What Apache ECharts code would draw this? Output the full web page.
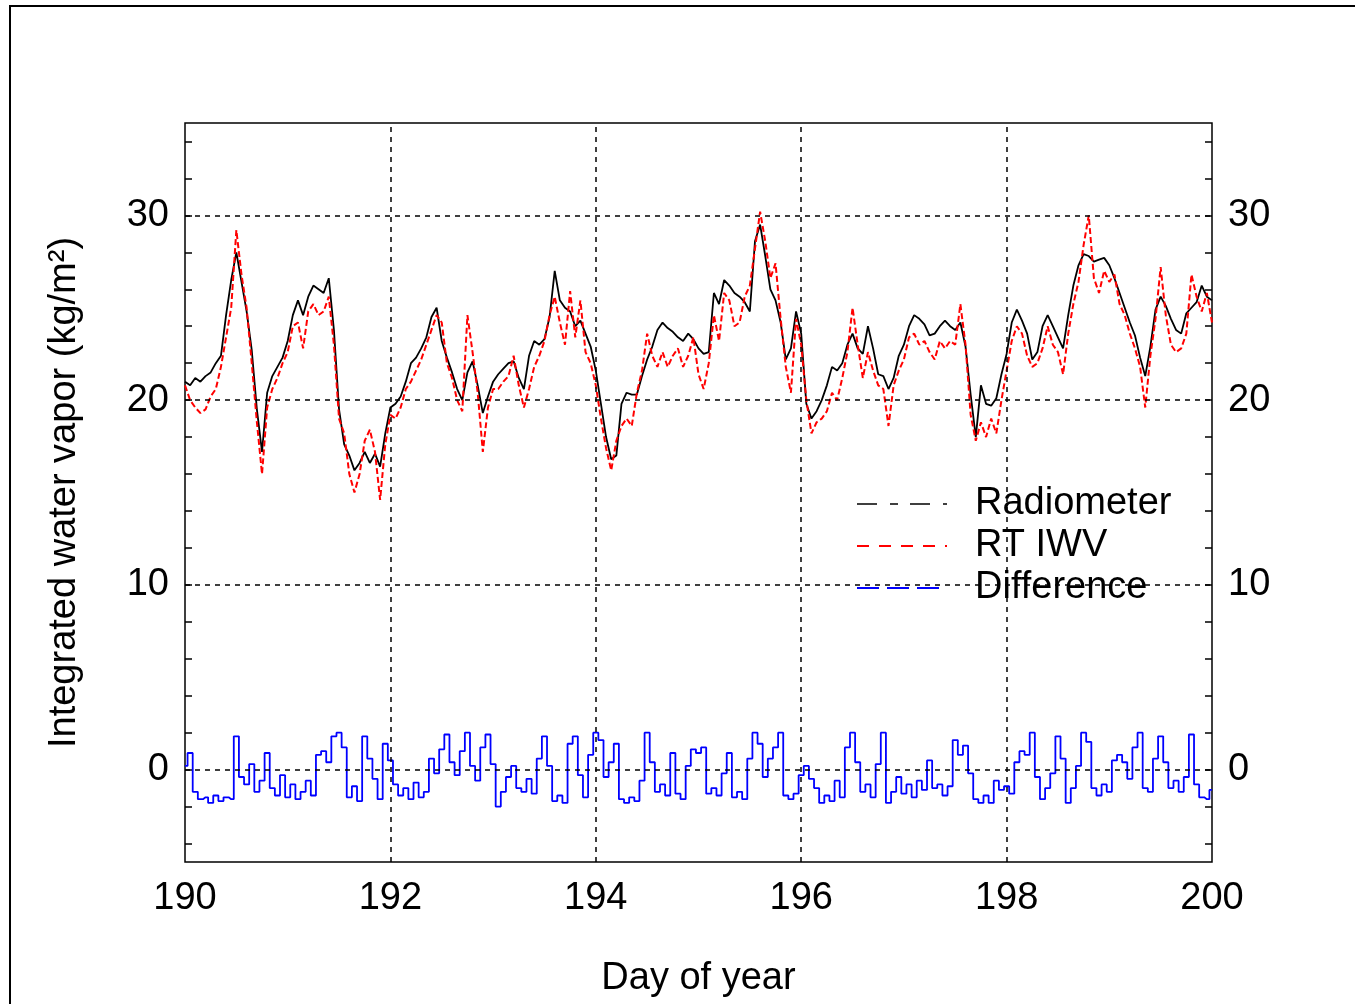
<!DOCTYPE html>
<html><head><meta charset="utf-8">
<script src="https://cdn.jsdelivr.net/npm/echarts@6/dist/echarts.min.js"></script>
<style>html,body{margin:0;padding:0;background:#fff}#c{width:1355px;height:1004px}</style>
</head><body><div id="c"></div>
<script>
// Sampling grid (day of year), every 0.05 day from 190 to 200
const startDay = 190;
const stepDay = 0.05;
const xTickLabels = [190, 192, 194, 196, 198, 200];
const yTickLabels = [0, 10, 20, 30];

const radiometer = [
21.0,20.8,21.2,21.0,21.3,21.5,22.0,22.4,24.6,26.5,28.0,26.4,24.8,22.7,19.5,17.2,20.4,21.3,21.8,22.3,
23.2,24.6,25.4,24.6,25.6,26.2,26.0,25.8,26.6,23.8,19.5,17.6,17.0,16.2,16.6,17.2,16.6,17.1,16.4,18.2,
19.6,19.8,20.2,21.0,22.0,22.3,22.8,23.4,24.5,25.0,23.2,22.3,21.5,20.6,20.0,21.5,22.1,20.8,19.3,20.2,
21.0,21.4,21.7,22.0,22.1,21.2,20.6,22.4,23.2,23.0,23.3,24.5,27.0,25.4,25.0,24.8,24.0,24.3,23.6,22.9,
21.6,19.8,18.0,16.8,17.0,19.8,20.4,20.3,20.3,21.3,22.2,22.9,23.8,24.2,23.9,23.7,23.4,23.2,23.6,23.3,
22.8,22.5,22.6,25.8,25.2,26.5,26.2,25.8,25.6,25.3,24.8,28.6,29.5,27.8,26.0,25.4,24.2,22.2,22.8,24.8,
23.6,19.8,19.0,19.4,20.0,20.8,21.8,21.6,22.0,23.0,23.6,22.8,22.5,24.0,22.8,21.4,21.3,20.6,21.2,22.4,
23.0,24.0,24.6,24.4,24.1,23.5,23.6,24.0,24.3,24.0,23.8,24.2,22.9,20.3,18.0,20.8,19.8,19.7,20.1,21.4,
22.5,24.2,24.9,24.3,23.6,22.2,22.6,24.0,24.6,24.0,23.4,22.8,24.6,26.2,27.3,27.9,27.8,27.5,27.6,27.7,
27.3,26.6,25.8,25.0,24.2,23.5,22.3,21.3,22.9,24.9,25.6,25.1,24.4,23.8,23.6,24.7,25.0,25.3,26.2,25.6,
25.4];

const rtIwv = [
20.8,20.0,19.6,19.3,19.5,20.2,20.6,21.8,23.4,25.0,29.2,26.8,25.0,22.0,18.8,16.0,19.6,20.6,21.2,22.0,
22.6,24.0,24.2,22.8,24.8,25.2,24.6,24.8,25.6,23.0,19.0,18.2,16.0,15.0,16.0,17.8,18.4,17.2,14.6,17.6,
19.2,19.0,19.6,20.6,21.0,21.6,22.2,23.0,23.8,24.6,24.2,22.0,21.2,20.0,19.4,24.6,22.6,20.4,17.2,19.6,
20.6,20.6,21.0,21.3,22.4,20.8,19.6,20.6,21.8,22.4,23.2,24.6,25.6,24.2,23.0,25.9,23.4,25.4,22.6,22.0,
20.8,19.0,17.4,16.2,17.8,18.6,19.0,18.6,20.4,21.6,23.6,22.4,21.8,22.6,21.8,22.4,22.8,21.8,22.4,23.4,
21.4,20.6,22.0,24.6,23.2,25.8,25.4,24.0,24.2,25.6,26.2,28.2,30.2,28.6,26.6,27.4,24.4,21.8,20.4,24.4,
23.0,20.0,18.2,18.8,19.0,19.4,20.4,20.0,21.2,22.6,25.0,23.0,21.2,22.6,21.6,20.8,20.6,18.6,20.8,21.6,
22.2,23.4,23.6,23.0,23.2,22.6,22.2,23.2,22.8,23.2,23.0,25.2,23.0,19.2,17.8,18.8,18.0,19.0,18.2,20.0,
21.6,23.2,24.0,23.6,22.4,21.8,22.0,22.8,24.0,23.0,22.6,21.4,23.6,25.2,26.4,28.4,30.0,26.6,25.8,27.0,
26.4,26.8,25.2,24.6,23.6,22.8,21.8,19.6,22.4,24.4,27.2,24.6,23.0,22.6,22.8,23.6,26.8,25.6,24.8,25.8,
24.2];

const difference = [
0.2,0.9,-1.2,-1.6,-1.5,-1.8,-1.4,-1.7,-1.5,-1.6,1.8,-0.4,-0.8,0.3,-1.2,-0.6,0.9,-1.0,-1.4,-0.3,
-1.5,-0.8,-1.6,-1.2,-0.6,-1.4,0.8,1.0,0.4,1.8,2.0,1.2,-1.5,-0.9,-1.7,1.8,0.6,-0.5,-1.6,1.4,
0.5,-0.8,-1.4,-1.0,-1.6,-0.7,-1.5,-1.2,0.6,-0.2,1.1,1.9,0.4,-0.3,1.0,2.0,0.2,-0.6,1.2,1.9,
0.3,-2.0,-1.2,-0.4,0.2,-1.0,-1.2,-0.5,-1.3,0.6,1.8,0.2,-1.7,-1.4,-1.8,1.4,1.8,-0.3,-1.5,0.8,
2.0,1.6,-0.4,0.4,1.4,-1.6,-1.8,-1.5,-1.7,-0.6,2.0,0.4,-1.2,-0.8,-1.4,0.9,-1.3,-1.6,0.2,1.1,
0.9,1.2,-1.3,-1.0,-1.4,-0.2,0.9,-1.5,-1.2,-1.6,0.6,2.0,1.4,-0.4,0.6,1.2,2.0,-1.4,-1.6,-1.3,
-0.3,0.2,-0.5,-1.0,-1.8,-1.4,-1.7,-0.6,-1.5,1.2,2.0,0.4,-1.2,-0.8,-1.5,0.3,2.0,-1.8,-1.2,-0.4,
-1.3,-0.8,-1.5,-0.6,-1.1,0.5,-1.0,-0.8,-1.4,-0.9,1.6,0.8,1.3,-0.2,-1.6,-1.8,-1.4,-1.8,-0.6,-1.1,
-0.9,-1.3,0.4,1.0,0.8,2.0,-0.4,-1.6,-1.0,-0.2,1.8,0.6,-1.8,-1.0,0.2,2.0,1.5,-1.0,-1.4,-0.8,
-1.2,0.5,0.8,0.4,-0.5,1.2,2.0,-1.0,-1.2,0.6,1.8,0.4,-1.0,-0.6,-1.2,-0.4,1.9,-0.8,-1.5,-1.6,
-1.1];

const toPairs = arr => arr.map((v, i) => [+(startDay + i * stepDay).toFixed(2), v]);

const FONT = 'Liberation Sans';
const FS = 38;
const chart = echarts.init(document.getElementById('c'), null, {renderer: 'canvas'});
const yMinor = [];
for (let v = -4; v <= 34; v += 2) yMinor.push(v);

const yAxisBase = {
  type: 'value', min: -5, max: 35,
  axisLine: {show: false},
  splitLine: {show: false},
  axisTick: {show: true, inside: true, length: 7, customValues: yMinor, lineStyle: {color: '#000', width: 1.5}},
  axisLabel: {customValues: yTickLabels, color: '#000', fontFamily: FONT, fontSize: FS, margin: 16}
};

chart.setOption({
  animation: false,
  backgroundColor: '#fff',
  graphic: [{
    type: 'rect', shape: {x: 10, y: 6, width: 1500, height: 1200},
    style: {fill: 'none', stroke: '#000', lineWidth: 2}, silent: true, z: 0
  }],
  grid: {left: 185, top: 123, width: 1027, height: 739, show: true, borderColor: '#000', borderWidth: 1.5, backgroundColor: 'transparent'},
  xAxis: {
    type: 'value', min: 190, max: 200, interval: 2,
    axisLine: {show: false}, splitLine: {show: false},
    axisTick: {show: false},
    axisLabel: {color: '#000', fontFamily: FONT, fontSize: FS, margin: 18, customValues: xTickLabels},
    name: 'Day of year', nameLocation: 'middle', nameGap: 98,
    nameTextStyle: {color: '#000', fontFamily: FONT, fontSize: FS}
  },
  yAxis: [
    Object.assign({}, yAxisBase, {
      position: 'left',
      name: 'Integrated water vapor (kg/m²)', nameLocation: 'middle', nameGap: 101, nameRotate: 90,
      nameTextStyle: {color: '#000', fontFamily: FONT, fontSize: FS}
    }),
    Object.assign({}, yAxisBase, {position: 'right'})
  ],
  legend: {
    show: true,
    left: 851, top: 480, orient: 'vertical',
    itemWidth: 90, itemHeight: 14, itemGap: 4,
    itemStyle: {opacity: 0},
    textStyle: {color: '#000', fontFamily: FONT, fontSize: FS, padding: [0, 0, 0, 23]},
    data: [
      {name: 'Radiometer', lineStyle: {color: '#000', width: 1.5, type: [20, 13, 8, 12]}},
      {name: 'RT IWV', lineStyle: {color: '#ff0000', width: 2, type: [12, 10]}},
      {name: 'Difference', lineStyle: {color: '#0000ff', width: 2, type: [22, 8]}}
    ]
  },
  series: [
    {
      name: 'grid', type: 'line', data: [], z: 1, silent: true,
      markLine: {
        silent: true, symbol: 'none', animation: false,
        label: {show: false},
        lineStyle: {color: '#000', width: 1.5, type: [5, 5]},
        data: [{yAxis: 0}, {yAxis: 10}, {yAxis: 20}, {yAxis: 30},
               {xAxis: 192}, {xAxis: 194}, {xAxis: 196}, {xAxis: 198}]
      }
    },
    {
      name: 'Radiometer', type: 'line', data: toPairs(radiometer), showSymbol: false, symbol: 'none', z: 3,
      lineStyle: {color: '#000', width: 1.8}, itemStyle: {color: '#000'}
    },
    {
      name: 'RT IWV', type: 'line', data: toPairs(rtIwv), showSymbol: false, symbol: 'none', z: 4,
      lineStyle: {color: '#ff0000', width: 2, type: [6, 3]}, itemStyle: {color: '#ff0000'}
    },
    {
      name: 'Difference', type: 'line', step: 'middle', data: toPairs(difference), showSymbol: false, symbol: 'none', z: 3,
      lineStyle: {color: '#0000ff', width: 1.8}, itemStyle: {color: '#0000ff'}
    }
  ]
});
</script></body></html>
